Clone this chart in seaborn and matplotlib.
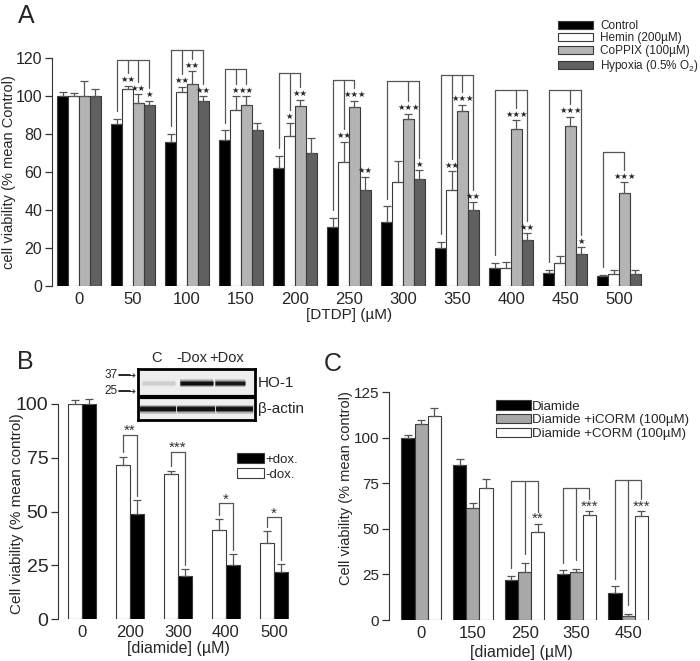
import numpy as np
import pandas as pd
import matplotlib
matplotlib.use('Agg')
import matplotlib.pyplot as plt
from matplotlib.patches import Patch
import seaborn as sns

# ---- panel A : DTDP ----
doses_a = ['0', '50', '100', '150', '200', '250', '300', '350', '400', '450', '500']
groups_a = ['Control', 'Hemin (200µM)', 'CoPPIX (100µM)', 'Hypoxia (0.5% O$_2$)']
control_a = [100, 85.5, 76, 77, 62, 31, 33.7, 19.8, 9.6, 6.8, 5.1]
control_a_err = [2, 2.5, 4, 5, 6.5, 5, 8.3, 3.5, 2.7, 1.8, 0.9]
hemin_a = [100, 103.5, 102, 92.5, 79, 65.5, 54.7, 50.7, 9.6, 12.1, 6.5]
hemin_a_err = [1.5, 2, 3, 7.5, 7, 10.5, 11.1, 9.7, 3, 3.7, 2.1]
coppix_a = [100, 96.5, 106.5, 95.5, 94.5, 94, 88, 92, 82.8, 84.2, 48.9]
coppix_a_err = [8, 4.5, 6.5, 4.5, 3.5, 3.5, 2.7, 3.4, 4.4, 4.9, 5.8]
hypoxia_a = [100, 95.5, 97.5, 82, 70, 50.4, 56.5, 40.2, 24.4, 17, 6.1]
hypoxia_a_err = [3.7, 2, 2.5, 4, 8, 7, 4.5, 4, 3.5, 3.5, 2.5]
# significance: group -> {bar: stars}, bracket top, bars joined by the bracket
stars_a = [{}, {1: '**', 2: '**', 3: '*'}, {1: '**', 2: '**', 3: '**'}, {1: '*', 2: '**'},
           {1: '*', 2: '**'}, {1: '**', 2: '***', 3: '**'}, {2: '***', 3: '*'},
           {1: '**', 2: '***', 3: '**'}, {2: '***', 3: '**'}, {2: '***', 3: '*'}, {2: '***'}]
joined_a = [[], [0, 1, 2, 3], [0, 1, 2, 3], [0, 1, 2], [0, 1, 2], [0, 1, 2], [0, 2, 3],
            [0, 1, 2, 3], [0, 2, 3], [0, 2, 3], [0, 2]]
bracket_a = [None, 119, 124.4, 114, 112, 108.4, 108, 111, 103, 103, 70.5]

# ---- panel B : diamide +/- dox ----
doses_b = ['0', '200', '300', '400', '500']
groups_b = ['-dox.', '+dox.']
minus_dox = [100, 71.6, 67.3, 41.5, 35.3]
minus_dox_err = [2, 3.9, 1.7, 4.9, 5.4]
plus_dox = [100, 48.8, 20.1, 25.2, 21.7]
plus_dox_err = [2.3, 6.6, 3.1, 5, 3.8]
stars_b = ['', '**', '***', '*', '*']
bracket_b = [None, 85.6, 77.9, 53.9, 47.4]
blot_lanes = ['C', '-Dox', '+Dox']
ho1_band = [0.08, 1.0, 0.9]
actin_band = [1.0, 1.0, 1.0]

# ---- panel C : diamide + CORM ----
doses_c = ['0', '150', '250', '350', '450']
groups_c = ['Diamide', 'Diamide +iCORM (100µM)', 'Diamide +CORM (100µM)']
diamide_c = [100, 84.9, 21.9, 25, 14.6]
diamide_c_err = [1.2, 3.6, 2.4, 2.4, 4]
icorm_c = [107.4, 61.5, 26.5, 26.5, 2.4]
icorm_c_err = [2.3, 2.4, 4.5, 1.2, 0.7]
corm_c = [111.6, 72.1, 48.4, 57.8, 56.9]
corm_c_err = [4.9, 5.1, 4.5, 1.8, 2.7]
stars_c = ['', '', '**', '***', '***']
bracket_c = [None, None, 76.3, 72.6, 77]

EDGE = '#3a3a3a'
LINE = '#555555'

sns.set_style('ticks')
plt.rcParams['font.family'] = ['Liberation Sans', 'DejaVu Sans']
plt.rcParams['mathtext.fontset'] = 'custom'
plt.rcParams['mathtext.rm'] = 'Liberation Sans'
plt.rcParams['mathtext.default'] = 'rm'


def draw_bars(ax, doses, names, values, errs, colors, width):
    df = pd.DataFrame({
        'dose': np.tile(doses, len(names)),
        'treat': np.repeat(names, len(doses)),
        'value': np.concatenate(values),
    })
    sns.barplot(data=df, x='dose', y='value', hue='treat', order=doses, hue_order=names,
                palette=dict(zip(names, colors)), width=width, errorbar=None, saturation=1,
                edgecolor=EDGE, linewidth=0.8, legend=False, ax=ax)
    centers = [[b.get_x() + b.get_width() / 2 for b in cont] for cont in ax.containers]
    for c, v, e in zip(centers, values, errs):
        ax.errorbar(c, v, yerr=[np.zeros(len(e)), e], fmt='none', ecolor=LINE,
                    elinewidth=0.9, capsize=3, capthick=0.9, clip_on=False)
    return np.array(centers)


def style_axis(ax, yticks, ytick_size, xtick_size):
    sns.despine(ax=ax, bottom=True)
    ax.spines['left'].set_color('#333333')
    ax.set_yticks(yticks)
    ax.tick_params(axis='x', length=0, labelsize=xtick_size, pad=4)
    ax.tick_params(axis='y', length=5, width=0.9, color='#333333', labelsize=ytick_size, pad=2)


def bracket(ax, xs, ends, top):
    ax.plot([min(xs), max(xs)], [top, top], color=LINE, lw=0.9, clip_on=False)
    for x, e in zip(xs, ends):
        ax.plot([x, x], [e, top], color=LINE, lw=0.9, clip_on=False)


def band(ax, y, x0, x1, strength, lw):
    # soft blot band: a few stacked strokes
    for scale, a in [(1.8, 0.25), (1.3, 0.5), (0.8, 1.0)]:
        ax.hlines(y, x0, x1, color='#111111', lw=lw * scale, alpha=a * strength)


fig = plt.figure(figsize=(7, 6.61), dpi=100)

# ===== A =====
axA = fig.add_axes([52 / 700, 1 - 286 / 661, 594 / 700, 228 / 661])
vals_a = [control_a, hemin_a, coppix_a, hypoxia_a]
errs_a = [control_a_err, hemin_a_err, coppix_a_err, hypoxia_a_err]
cols_a = ['#000000', '#ffffff', '#b4b4b4', '#606060']
cen_a = draw_bars(axA, doses_a, groups_a, vals_a, errs_a, cols_a, 0.8)
axA.set_ylim(0, 120)
axA.set_xlim(-0.5, 10.5)
style_axis(axA, range(0, 121, 20), 11.5, 12)
axA.set_xlabel('[DTDP] (µM)', fontsize=11, labelpad=1)
axA.set_ylabel('cell viability (% mean Control)', fontsize=10.5)
axA.yaxis.set_label_coords(-0.061, 0.5)
for g in range(len(doses_a)):
    tops = [vals_a[k][g] + errs_a[k][g] for k in range(4)]
    for k, s in stars_a[g].items():
        axA.text(cen_a[k][g], tops[k] + 0.8, s.replace('*', '★'), ha='center', va='bottom',
                 fontsize=6, family='DejaVu Sans')
    if joined_a[g]:
        ends = [tops[k] + (4 if k == 0 else 6.5) for k in joined_a[g]]
        bracket(axA, [cen_a[k][g] for k in joined_a[g]], ends, bracket_a[g])
fig.legend(handles=[Patch(facecolor=c, edgecolor=EDGE, lw=0.8, label=n) for c, n in zip(cols_a, groups_a)],
           loc='upper left', bbox_to_anchor=(553 / 700, 1 - 15 / 661), frameon=False, fontsize=8.5,
           handlelength=3.0, handleheight=0.68, labelspacing=0.06, handletextpad=0.6, borderaxespad=0)
fig.text(26 / 700, 1 - 16 / 661, 'A', fontsize=18, ha='center', va='center')

# ===== B =====
axB = fig.add_axes([58 / 700, 1 - 619 / 661, 240 / 700, 215 / 661])
vals_b = [minus_dox, plus_dox]
errs_b = [minus_dox_err, plus_dox_err]
cols_b = ['#ffffff', '#000000']
cen_b = draw_bars(axB, doses_b, groups_b, vals_b, errs_b, cols_b, 0.6)
axB.set_ylim(0, 100)
axB.set_xlim(-0.5, 4.5)
style_axis(axB, [0, 25, 50, 75, 100], 14, 12)
axB.set_xlabel('[diamide] (µM)', fontsize=11.5, labelpad=1)
axB.set_ylabel('Cell viability (% mean control)', fontsize=11)
axB.yaxis.set_label_coords(-0.14, 0.49)
for g in range(len(doses_b)):
    if bracket_b[g] is None:
        continue
    ends = [vals_b[k][g] + errs_b[k][g] + 2 for k in range(2)]
    bracket(axB, [cen_b[k][g] for k in range(2)], ends, bracket_b[g])
    axB.text(np.mean(cen_b[:, g]), bracket_b[g] - 1.5, stars_b[g], ha='center', va='bottom',
             fontsize=11, color='#333333')
fig.legend(handles=[Patch(facecolor='#000000', edgecolor=EDGE, lw=0.8, label='+dox.'),
                    Patch(facecolor='#ffffff', edgecolor=EDGE, lw=0.8, label='-dox.')],
           loc='upper left', bbox_to_anchor=(232 / 700, 1 - 448 / 661), frameon=False, fontsize=9.5,
           handlelength=2.0, handleheight=0.7, labelspacing=0.22, handletextpad=0.1, borderaxespad=0)
fig.text(25 / 700, 1 - 362 / 661, 'B', fontsize=18, ha='center', va='center')

# western blot inset
axW = fig.add_axes([138 / 700, 1 - 420 / 661, 117 / 700, 51 / 661])
axW.set_facecolor('#eeeeee')
axW.set_xlim(0, 3)
axW.set_ylim(0, 2)
axW.set_xticks([])
axW.set_yticks([])
for sp in axW.spines.values():
    sp.set_linewidth(2)
    sp.set_color('#000000')
for (x0, x1), a in zip([(0.1, 0.95), (1.08, 1.92), (1.97, 2.74)], ho1_band):
    band(axW, 1.45, x0, x1, a, 3)
for (x0, x1), a in zip([(0.05, 0.98), (1.0, 1.98), (2.0, 2.95)], actin_band):
    band(axW, 0.42, x0, x1, a, 3.4)
axW.axhline(0.92, color='#000000', lw=3)
for lab, lx in zip(blot_lanes, [157, 192, 227]):
    fig.text(lx / 700, 1 - 358 / 661, lab, fontsize=10.5, ha='center', va='center')
for lab, ly in zip(['37', '25'], [375, 391]):
    fig.text(111 / 700, 1 - ly / 661, lab, fontsize=8.5, ha='center', va='center')
    fig.add_artist(plt.Line2D([119 / 700, 130 / 700], [1 - ly / 661] * 2, color='black', lw=1.2))
    fig.text(136 / 700, 1 - ly / 661, '➔', fontsize=6, ha='right', va='center', family='DejaVu Sans')
fig.text(258 / 700, 1 - 383 / 661, 'HO-1', fontsize=11, ha='left', va='center')
fig.text(258 / 700, 1 - 409 / 661, 'β-actin', fontsize=11, ha='left', va='center')

# ===== C =====
axC = fig.add_axes([389 / 700, 1 - 620 / 661, 265 / 700, 228 / 661])
vals_c = [diamide_c, icorm_c, corm_c]
errs_c = [diamide_c_err, icorm_c_err, corm_c_err]
cols_c = ['#000000', '#a8a8a8', '#ffffff']
cen_c = draw_bars(axC, doses_c, groups_c, vals_c, errs_c, cols_c, 0.76)
axC.set_ylim(0, 125)
axC.set_xlim(-0.62, 4.5)
style_axis(axC, range(0, 126, 25), 11, 12)
axC.set_xlabel('[diamide] (µM)', fontsize=11.5, labelpad=3)
axC.set_ylabel('Cell viability (% mean control)', fontsize=10.5)
axC.yaxis.set_label_coords(-0.135, 0.58)
for g in range(len(doses_c)):
    if bracket_c[g] is None:
        continue
    tops = [vals_c[k][g] + errs_c[k][g] for k in range(3)]
    ends = [tops[0] + 4, tops[1] + 5, tops[2] + 6.5]
    bracket(axC, [cen_c[k][g] for k in range(3)], ends, bracket_c[g])
    axC.text(cen_c[2][g], tops[2] - 1.5, stars_c[g], ha='center', va='bottom',
             fontsize=11, color='#333333')
fig.legend(handles=[Patch(facecolor=c, edgecolor=EDGE, lw=0.8, label=n) for c, n in zip(cols_c, groups_c)],
           loc='upper left', bbox_to_anchor=(491 / 700, 1 - 395 / 661), frameon=False, fontsize=9.5,
           handlelength=2.6, handleheight=0.7, labelspacing=0.12, handletextpad=0.1, borderaxespad=0)
fig.text(333 / 700, 1 - 364 / 661, 'C', fontsize=18, ha='center', va='center')

fig.savefig('out.png', dpi=100)
